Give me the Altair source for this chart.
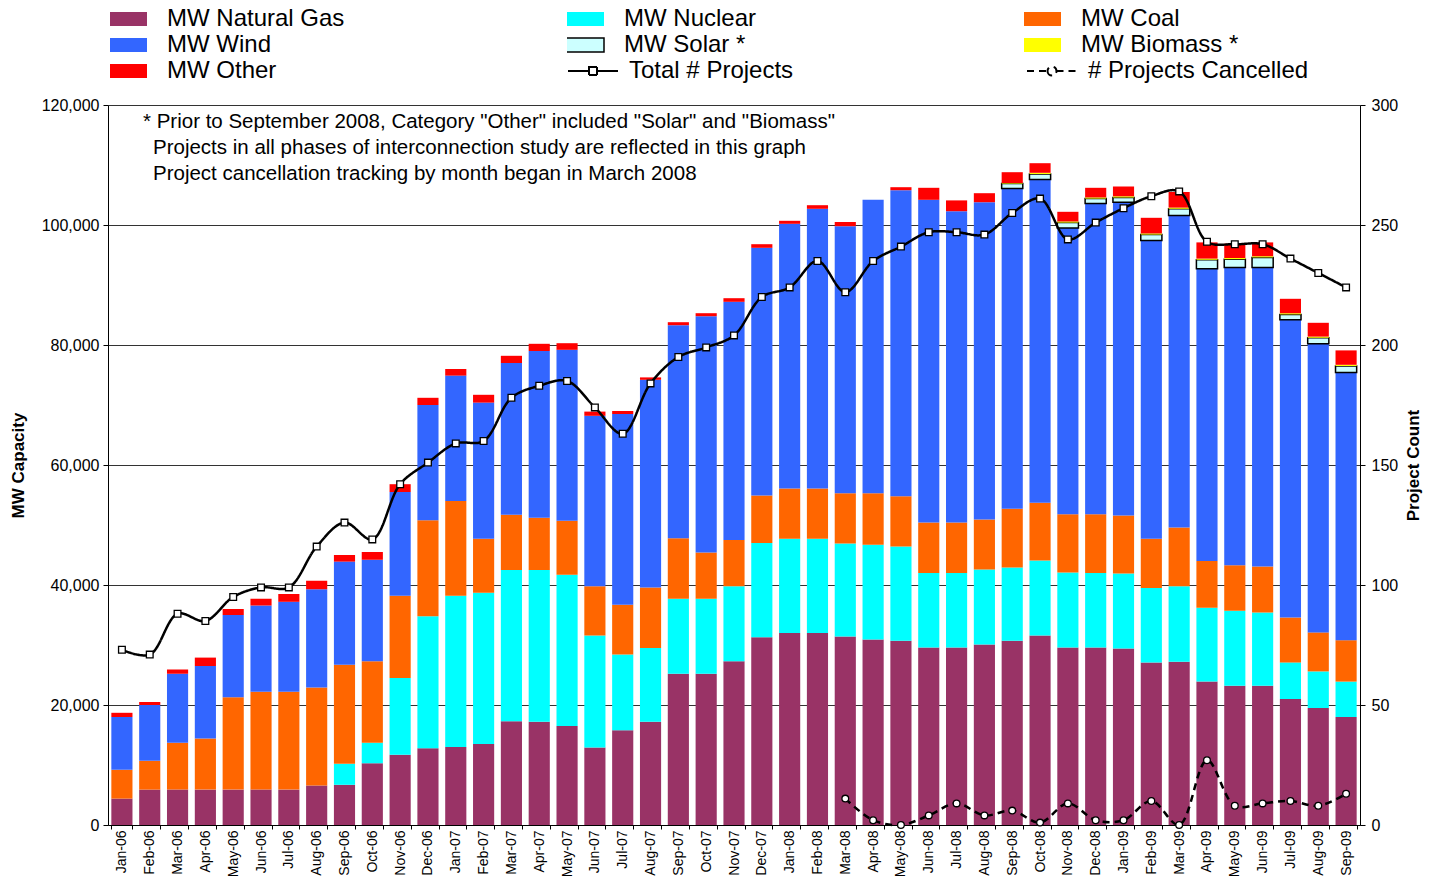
import altair as alt
import pandas as pd

months = ["Jan-06", "Feb-06", "Mar-06", "Apr-06", "May-06", "Jun-06", "Jul-06", "Aug-06", "Sep-06", "Oct-06", "Nov-06", "Dec-06",
          "Jan-07", "Feb-07", "Mar-07", "Apr-07", "May-07", "Jun-07", "Jul-07", "Aug-07", "Sep-07", "Oct-07", "Nov-07", "Dec-07",
          "Jan-08", "Feb-08", "Mar-08", "Apr-08", "May-08", "Jun-08", "Jul-08", "Aug-08", "Sep-08", "Oct-08", "Nov-08", "Dec-08",
          "Jan-09", "Feb-09", "Mar-09", "Apr-09", "May-09", "Jun-09", "Jul-09", "Aug-09", "Sep-09"]

gas = [4400, 5900, 5900, 5900, 5900, 5900, 5900, 6600, 6700, 10300, 11700, 12800,
       13000, 13500, 17300, 17200, 16500, 12900, 15800, 17200, 25200, 25200, 27300, 31300,
       32000, 32000, 31400, 30900, 30700, 29600, 29600, 30100, 30700, 31600, 29600, 29600,
       29400, 27100, 27200, 23900, 23200, 23200, 21000, 19500, 18000]
nuclear = [0, 0, 0, 0, 0, 0, 0, 0, 3500, 3400, 12800, 22000,
           25200, 25200, 25200, 25300, 25200, 18700, 12600, 12300, 12500, 12500, 12500, 15700,
           15700, 15700, 15500, 15800, 15700, 12400, 12400, 12500, 12200, 12500, 12500, 12400,
           12500, 12400, 12600, 12300, 12500, 12200, 6100, 6100, 5900]
coal = [4800, 4800, 7800, 8500, 15400, 16300, 16300, 16300, 16500, 13600, 13700, 16000,
        15800, 9000, 9200, 8700, 9000, 8200, 8300, 10100, 10100, 7700, 7700, 7900,
        8400, 8400, 8400, 8600, 8400, 8400, 8400, 8300, 9800, 9600, 9700, 9800,
        9700, 8200, 9800, 7800, 7600, 7700, 7500, 6500, 6900]
wind = [8800, 9300, 11500, 12100, 13700, 14400, 15000, 16400, 17200, 16900, 17300, 19200,
        20900, 22700, 25300, 27800, 28500, 28400, 31800, 34600, 35500, 39400, 39700, 41300,
        44100, 46600, 44500, 48900, 51000, 53800, 51900, 52900, 53400, 53900, 47700, 51800,
        52200, 49700, 52000, 48700, 49600, 49800, 49600, 48100, 44600]
solar = [0] * 32 + [800, 900, 900, 800, 800, 1000, 1100, 1500, 1400, 1700, 900, 1000, 1100]
biomass = [0] * 32 + [100, 200, 200, 200, 200, 200, 200, 200, 200, 200, 200, 200, 200]
other = [700, 500, 700, 1400, 1000, 1100, 1300, 1400, 1100, 1300, 1300, 1200,
         1100, 1300, 1200, 1200, 1100, 700, 500, 400, 500, 500, 600, 600,
         500, 600, 700, 0, 500, 2000, 1800, 1500, 1800, 1600, 1600, 1600,
         1600, 2600, 2600, 2700, 2400, 2300, 2400, 2300, 2400]

total_projects = [73, 71, 88, 85, 95, 99, 99, 116, 126, 119, 142, 151,
                  159, 160, 178, 183, 185, 174, 163, 184, 195, 199, 204, 220,
                  224, 235, 222, 235, 241, 247, 247, 246, 255, 261, 244, 251,
                  257, 262, 264, 243, 242, 242, 236, 230, 224]
cancel_months = months[26:]
cancelled = [11, 2, 0, 4, 9, 4, 6, 1, 9, 2, 2, 10, 0, 27, 8, 9, 10, 8, 13]

types = ["MW Natural Gas", "MW Nuclear", "MW Coal", "MW Wind", "MW Solar *", "MW Biomass *", "MW Other"]
colors = ["#993366", "#00FFFF", "#FF6600", "#3366FF", "#CCFFFF", "#FFFF00", "#FF0000"]
series_names = ["Total # Projects", "# Projects Cancelled"]

notes = ['* Prior to September 2008, Category "Other" included "Solar" and "Biomass"',
         "Projects in all phases of interconnection study are reflected in this graph",
         "Project cancellation tracking by month began in March 2008"]

FONT = "Liberation Sans"

rows = []
for k, (t, vals) in enumerate(zip(types, [gas, nuclear, coal, wind, solar, biomass, other])):
    for m, v in zip(months, vals):
        if v > 0:
            rows.append({"month": m, "type": t, "mw": v, "ord": k})
df_bars = pd.DataFrame(rows)

lrows = [{"month": m, "series": series_names[0], "count": c} for m, c in zip(months, total_projects)]
lrows += [{"month": m, "series": series_names[1], "count": c} for m, c in zip(cancel_months, cancelled)]
df_lines = pd.DataFrame(lrows)

x_enc = alt.X("month:N", sort=months,
              scale=alt.Scale(paddingInner=0.24, paddingOuter=0.12),
              axis=alt.Axis(title=None, labelAngle=-90, labelFontSize=14, labelFont=FONT,
                            labelColor="black", tickColor="black", domainColor="black",
                            tickSize=4, tickBand="extent", labelPadding=1))

bars = alt.Chart(df_bars).mark_bar(stroke="black").encode(
    x=x_enc,
    y=alt.Y("mw:Q", stack="zero",
            scale=alt.Scale(domain=[0, 120000], nice=False),
            axis=alt.Axis(orient="left", values=list(range(0, 120001, 20000)), format=",.0f",
                          labelFontSize=16, labelFont=FONT, labelColor="black",
                          tickColor="black", tickSize=5, domainColor="black",
                          grid=True, gridColor="#333333", gridWidth=1, labelPadding=4,
                          title="MW Capacity", titleFont=FONT, titleFontSize=17,
                          titleFontWeight="bold", titleColor="black",
                          titleX=-90, titleY=360, titleAngle=270,
                          titleAlign="center", titleBaseline="middle")),
    color=alt.Color("type:N", scale=alt.Scale(domain=types, range=colors),
                    legend=alt.Legend(title=None, orient="none", legendX=2, legendY=-99,
                                      direction="horizontal",
                                      columns=3, symbolType="M-1,-0.28H1V0.28H-1Z",
                                      symbolSize=2500, labelFontSize=24, labelFont=FONT,
                                      labelColor="black", labelOffset=33, columnPadding=222,
                                      rowPadding=0, gridAlign="all", clipHeight=26,
                                      labelLimit=400, padding=0,
                                      symbolStrokeColor="black",
                                      symbolStrokeWidth={"expr": "datum.value === 'MW Solar *' ? 1.5 : 0"})),
    order=alt.Order("ord:Q", sort="ascending"),
    strokeWidth=alt.condition(alt.datum.type == "MW Solar *", alt.value(1.5), alt.value(0)),
)

y_right = alt.Y("count:Q", scale=alt.Scale(domain=[0, 300], nice=False),
                axis=alt.Axis(orient="right", values=list(range(0, 301, 50)),
                              labelFontSize=16, labelFont=FONT, labelColor="black",
                              tickColor="black", tickSize=5, domainColor="black",
                              grid=False, labelPadding=6,
                              title="Project Count", titleFont=FONT, titleFontSize=17,
                              titleFontWeight="bold", titleColor="black",
                              titleX=53, titleY=360, titleAngle=270,
                              titleAlign="center", titleBaseline="middle"))

sym_expr = ("datum.value === 'Total # Projects' ? "
            "'M-1,0H-0.16M0.16,0H1M-0.16,-0.16H0.16V0.16H-0.16Z' : "
            "'M-1,0H-0.18M0.18,0H1M-0.18,0A0.18,0.18 0 1,0 0.18,0A0.18,0.18 0 1,0 -0.18,0Z'")

lines = alt.Chart(df_lines).mark_line(color="black", strokeWidth=2.5, interpolate="catmull-rom").encode(
    x=x_enc,
    y=y_right,
    strokeDash=alt.StrokeDash("series:N",
                              scale=alt.Scale(domain=series_names, range=[[1, 0], [7, 5]]),
                              legend=alt.Legend(title=None, orient="none", legendX=459, legendY=-47,
                                                direction="horizontal",
                                                columns=2, symbolType={"expr": sym_expr},
                                                symbolSize=2500, symbolStrokeColor="black",
                                                symbolFillColor="white", symbolStrokeWidth=2,
                                                labelFontSize=24, labelFont=FONT, labelColor="black",
                                                labelOffset=10, columnPadding=176, rowPadding=0,
                                                gridAlign="all", clipHeight=26, padding=0,
                                                labelLimit=400)),
)

pts_total = alt.Chart(df_lines).transform_filter(
    alt.datum.series == series_names[0]
).mark_point(shape="square", filled=True, fill="white", stroke="black",
             strokeWidth=1.3, size=45, opacity=1).encode(x=x_enc, y=alt.Y("count:Q"))

pts_cancel = alt.Chart(df_lines).transform_filter(
    alt.datum.series == series_names[1]
).mark_point(shape="circle", filled=True, fill="white", stroke="black",
             strokeWidth=1.3, size=45, opacity=1).encode(x=x_enc, y=alt.Y("count:Q"))

note_layers = []
for i, (txt, xpos) in enumerate(zip(notes, [35, 45, 45])):
    note_layers.append(
        alt.Chart(pd.DataFrame({"t": [txt]})).mark_text(
            align="left", baseline="middle", fontSize=20.5, font=FONT, color="black"
        ).encode(text="t:N", x=alt.value(xpos), y=alt.value(17 + 26 * i))
    )

chart = alt.layer(bars, *note_layers, alt.layer(lines, pts_total, pts_cancel)).resolve_scale(
    y="independent"
).properties(
    width=1252, height=720,
    padding={"left": 100, "top": 97, "right": 64, "bottom": 51},
    autosize=alt.AutoSizeParams(type="none"),
).configure_view(stroke=None).configure(background="white")

chart.save("out.html", embed_options={"renderer": "svg", "actions": False})
